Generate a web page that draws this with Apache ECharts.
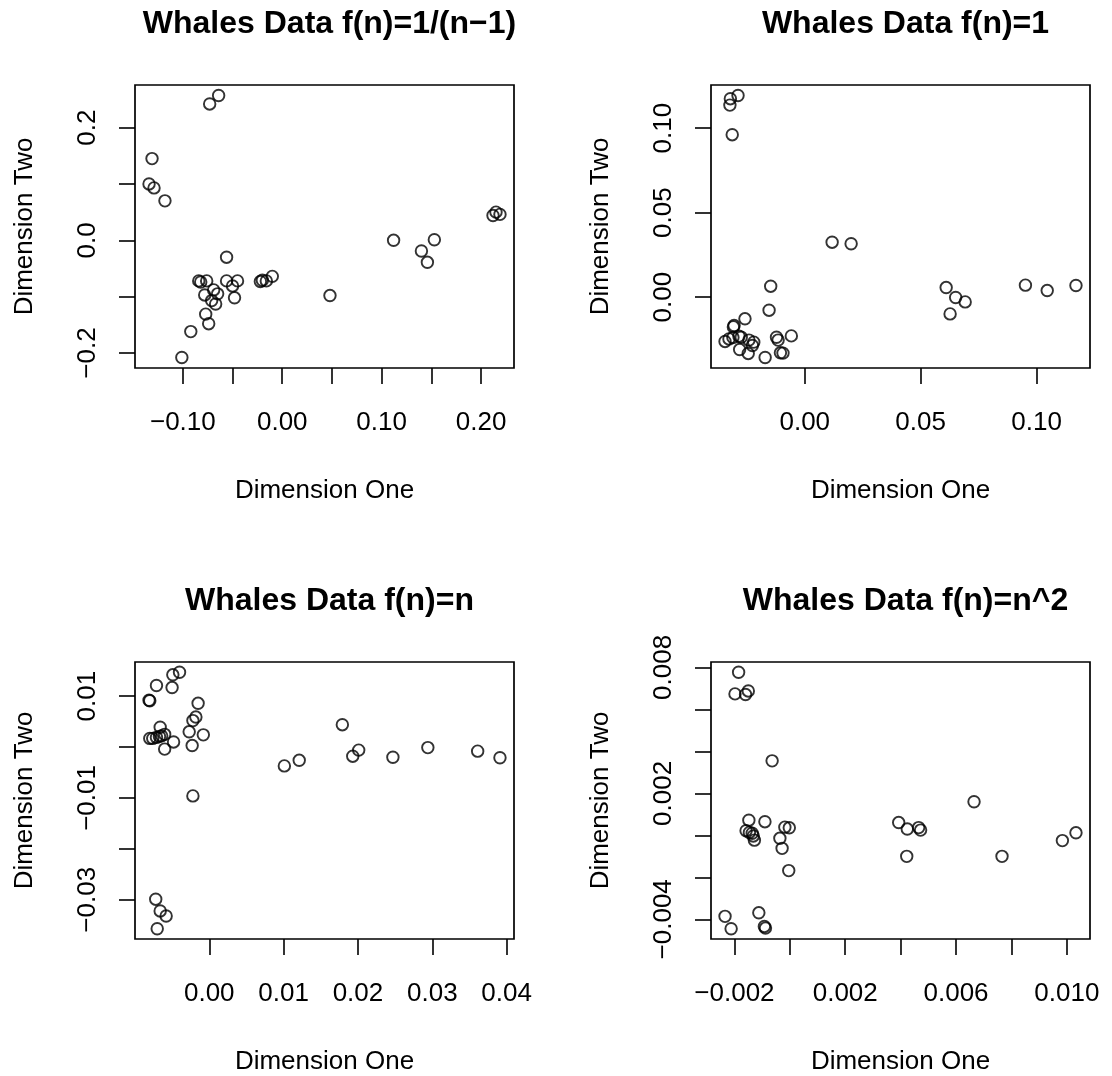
<!DOCTYPE html>
<html>
<head>
<meta charset="utf-8">
<title>Whales Data</title>
<script src="https://cdn.jsdelivr.net/npm/echarts@6/dist/echarts.min.js"></script>
<style>
    html, body { margin: 0; padding: 0; background: #fff; }
    #chart { width: 1112px; height: 1076px; }
</style>
</head>
<body>
<div id="chart"></div>
<script>
// panel titles
var titles = ['Whales Data f(n)=1/(n\u22121)', 'Whales Data f(n)=1', 'Whales Data f(n)=n', 'Whales Data f(n)=n^2'];

// f(n)=1/(n-1)
var p1X = [-0.064, -0.073, -0.131, -0.134, -0.129, -0.118, 0.212, 0.215, 0.219, 0.112, 0.153, 0.140, 0.146, 0.048,
    -0.056, -0.084, -0.082, -0.076, -0.056, -0.045, -0.050, -0.048, -0.022, -0.020, -0.016, -0.010,
    -0.069, -0.065, -0.078, -0.071, -0.067, -0.077, -0.074, -0.092, -0.101];
var p1Y = [0.257, 0.242, 0.145, 0.100, 0.093, 0.070, 0.044, 0.050, 0.046, 0.000, 0.001, -0.019, -0.039, -0.098,
    -0.030, -0.072, -0.074, -0.072, -0.072, -0.072, -0.081, -0.102, -0.073, -0.071, -0.072, -0.064,
    -0.088, -0.095, -0.097, -0.107, -0.113, -0.131, -0.148, -0.162, -0.208];

// f(n)=1
var p2X = [-0.0288, -0.0321, -0.0323, -0.0313, 0.0118, 0.0200, -0.0147, -0.0154, 0.0610, 0.0651, 0.0692, 0.0627,
    0.0952, 0.1046, 0.1170, -0.0258, -0.0305, -0.0308, -0.0344, -0.0327, -0.0310, -0.0284, -0.0274, -0.0241,
    -0.0220, -0.0226, -0.0281, -0.0244, -0.0171, -0.0122, -0.0115, -0.0058, -0.0105, -0.0094];
var p2Y = [0.1193, 0.1174, 0.1136, 0.0961, 0.0325, 0.0316, 0.0065, -0.0077, 0.0057, -0.0002, -0.0028, -0.0099,
    0.0071, 0.0039, 0.0069, -0.0128, -0.0168, -0.0176, -0.0262, -0.0247, -0.0239, -0.0231, -0.0237, -0.0254,
    -0.0266, -0.0286, -0.0310, -0.0333, -0.0357, -0.0237, -0.0254, -0.0229, -0.0329, -0.0331];

// f(n)=n
var p3X = [-0.0040, -0.0049, -0.0071, -0.0050, -0.0081, -0.0080, -0.0015, -0.0018, -0.0022, -0.0066, -0.0027,
    -0.0008, -0.0080, -0.0076, -0.0071, -0.0067, -0.0064, -0.0060, -0.0048, -0.0060, -0.0023, -0.0022,
    -0.0072, -0.0066, -0.0058, -0.0070, 0.0101, 0.0121, 0.0179, 0.0193, 0.0201, 0.0247, 0.0294, 0.0361, 0.0391];
var p3Y = [0.0147, 0.0142, 0.0121, 0.0117, 0.0092, 0.0091, 0.0086, 0.0059, 0.0052, 0.0039, 0.0030,
    0.0024, 0.0017, 0.0017, 0.0019, 0.0021, 0.0022, 0.0025, 0.0010, -0.0004, 0.0003, -0.0096,
    -0.0299, -0.0322, -0.0332, -0.0357, -0.0037, -0.0026, 0.0044, -0.0018, -0.0006, -0.0020, -0.0001, -0.0008, -0.0021];

// f(n)=n^2
var p4X = [-0.00185, -0.00198, -0.00160, -0.00150, -0.00064, 0.00665, -0.00148, -0.00090, -0.00158, -0.00146,
    -0.00136, -0.00132, -0.00128, -0.00018, -0.00002, -0.00036, -0.00028, -0.00004, 0.00393, 0.00424,
    0.00465, 0.00472, 0.00422, 0.00766, 0.00984, 0.01033, -0.00234, -0.00212, -0.00112, -0.00092, -0.00088];
var p4Y = [0.00777, 0.00674, 0.00671, 0.00688, 0.00355, 0.00160, 0.00072, 0.00065, 0.00022, 0.00014,
    0.00010, -0.00003, -0.00023, 0.00039, 0.00036, -0.00014, -0.00062, -0.00168, 0.00061, 0.00030,
    0.00037, 0.00025, -0.00100, -0.00100, -0.00025, 0.00012, -0.00386, -0.00445, -0.00369, -0.00434, -0.00442];

// ticks and the labels R kept
var xTicks = [
    [-0.10, -0.05, 0.00, 0.05, 0.10, 0.15, 0.20],
    [0.00, 0.05, 0.10],
    [0.00, 0.01, 0.02, 0.03, 0.04],
    [-0.002, 0.000, 0.002, 0.004, 0.006, 0.008, 0.010]
];
var xLabels = [
    [-0.10, 0.00, 0.10, 0.20],
    [0.00, 0.05, 0.10],
    [0.00, 0.01, 0.02, 0.03, 0.04],
    [-0.002, 0.002, 0.006, 0.010]
];
var yTicks = [
    [-0.2, -0.1, 0.0, 0.1, 0.2],
    [0.00, 0.05, 0.10],
    [-0.03, -0.02, -0.01, 0.00, 0.01],
    [-0.004, -0.002, 0.000, 0.002, 0.004, 0.006, 0.008]
];
var yLabels = [
    [-0.2, 0.0, 0.2],
    [0.00, 0.05, 0.10],
    [-0.03, -0.01, 0.01],
    [-0.004, 0.002, 0.008]
];
var xDigits = [2, 2, 2, 3];
var yDigits = [1, 2, 2, 3];

var FONT = '"Liberation Sans", Arial, Helvetica, sans-serif';

// R style range: data range stretched by 4% each side
function rRange(arr){
    var lo = Math.min.apply(null, arr),
        hi = Math.max.apply(null, arr),
        pad = (hi - lo) * 0.04;
    return [lo - pad, hi + pad];
}

function fmt(digits){
    return function(v){
        if (Math.abs(v) < 1e-12) v = 0;
        return (v < 0 ? '\u2212' : '') + Math.abs(v).toFixed(digits);
    };
}

function buildOption(){
    var xs = [p1X, p2X, p3X, p4X],
        ys = [p1Y, p2Y, p3Y, p4Y],
        lefts = [135, 711],
        tops = [85, 662],
        option = {
            backgroundColor: '#fff',
            animation: false,
            textStyle: { fontFamily: FONT, color: '#000' },
            title: [], grid: [], xAxis: [], yAxis: [], series: []
        };

    for (var i = 0; i < 4; i++) {
        var left = lefts[i % 2],
            top = tops[Math.floor(i / 2)],
            xr = rRange(xs[i]),
            yr = rRange(ys[i]);

        option.title.push({
            text: titles[i],
            left: left + 189.5,
            top: top - 82,
            textAlign: 'center',
            textStyle: { fontFamily: FONT, fontSize: 32, fontWeight: 'bold', color: '#000' }
        });

        option.grid.push({
            left: left, top: top, width: 379, height: 283,
            show: true, borderColor: '#000', borderWidth: 1.7, backgroundColor: 'transparent'
        });

        option.xAxis.push({
            type: 'value', gridIndex: i, min: xr[0], max: xr[1], position: 'bottom',
            name: 'Dimension One', nameLocation: 'middle', nameGap: 110,
            nameTextStyle: { fontFamily: FONT, fontSize: 26, color: '#000' },
            axisLine: { show: false, onZero: false },
            splitLine: { show: false },
            axisTick: { show: true, length: 16, customValues: xTicks[i], lineStyle: { color: '#000', width: 1.6 } },
            axisLabel: { customValues: xLabels[i], margin: 42, fontSize: 26, color: '#000', fontFamily: FONT, formatter: fmt(xDigits[i]) }
        });

        option.yAxis.push({
            type: 'value', gridIndex: i, min: yr[0], max: yr[1], position: 'left',
            name: 'Dimension Two', nameLocation: 'middle', nameGap: 97,
            nameTextStyle: { fontFamily: FONT, fontSize: 26, color: '#000' },
            axisLine: { show: false, onZero: false },
            splitLine: { show: false },
            axisTick: { show: true, length: 16, customValues: yTicks[i], lineStyle: { color: '#000', width: 1.6 } },
            axisLabel: { customValues: yLabels[i], rotate: 90, margin: 34, fontSize: 26, color: '#000', fontFamily: FONT, formatter: fmt(yDigits[i]) }
        });

        var pts = [];
        for (var k = 0; k < xs[i].length; k++) {
            pts.push([xs[i][k], ys[i][k]]);
        }
        option.series.push({
            type: 'scatter', xAxisIndex: i, yAxisIndex: i,
            symbol: 'circle', symbolSize: 11.5,
            itemStyle: { color: 'transparent', borderColor: '#000', borderWidth: 1.9 },
            data: pts
        });
    }
    return option;
}

var myChart = echarts.init(document.getElementById('chart'), null, { renderer: 'canvas' });
myChart.setOption(buildOption());
</script>
</body>
</html>
